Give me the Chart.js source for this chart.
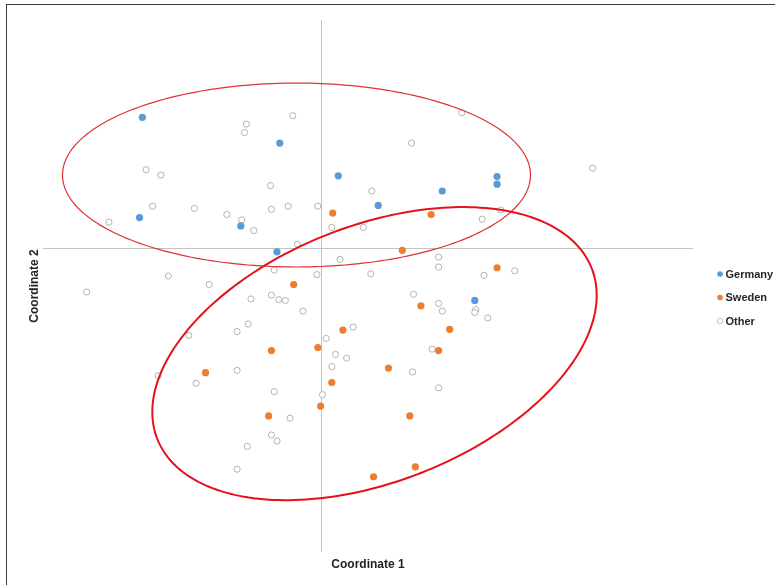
<!DOCTYPE html>
<html>
<head>
<meta charset="utf-8">
<title>Coordinate 1 / Coordinate 2</title>
<script src="https://cdn.jsdelivr.net/npm/chart.js@4.4.1/dist/chart.umd.min.js"></script>
<style>
  html, body { margin: 0; padding: 0; background: #ffffff; }
  #wrap { position: relative; width: 775px; height: 585px; overflow: hidden; }
  #frame { position: absolute; left: 6px; top: 4px; width: 820px; height: 640px;
           border-left: 1px solid #3c3c3c; border-top: 1px solid #3c3c3c; }
  #chart { position: absolute; left: 0; top: 0; }
</style>
</head>
<body>
<div id="wrap">
  <div id="frame"></div>
  <canvas id="chart" width="775" height="585"></canvas>
</div>
<script>
// Scores on the first two coordinates, [coordinate 1, coordinate 2]
const germany = [
  [-1.93, 1.72], [-0.45, 1.38], [0.18, 0.95], [1.89, 0.94], [1.89, 0.84],
  [1.30, 0.75], [0.61, 0.56], [-1.96, 0.40], [-0.87, 0.29], [-0.48, -0.05],
  [1.65, -0.69]
];

const sweden = [
  [0.12, 0.46], [1.18, 0.44], [0.87, -0.03], [1.89, -0.26], [-0.30, -0.48],
  [1.07, -0.76], [0.23, -1.08], [1.38, -1.07], [-0.54, -1.35], [-0.04, -1.31],
  [1.26, -1.35], [-1.25, -1.64], [0.72, -1.58], [0.11, -1.77], [-0.01, -2.08],
  [-0.57, -2.21], [0.95, -2.21], [1.01, -2.88], [0.56, -3.01]
];

const other = [
  [-0.31, 1.74], [-0.81, 1.63], [-0.83, 1.52], [1.51, 1.78], [0.97, 1.38],
  [2.92, 1.05], [-1.89, 1.03], [-1.73, 0.96], [-0.55, 0.82], [0.54, 0.75],
  [-1.82, 0.55], [-1.37, 0.52], [-1.02, 0.44], [-0.86, 0.37], [-0.54, 0.51],
  [-0.36, 0.55], [-0.04, 0.55], [-2.29, 0.34], [-0.73, 0.23], [0.11, 0.27],
  [0.45, 0.27], [1.73, 0.38], [1.93, 0.50], [-0.26, 0.05], [0.20, -0.15],
  [1.26, -0.12], [1.26, -0.25], [2.08, -0.30], [1.75, -0.36], [0.53, -0.34],
  [-1.65, -0.37], [-1.21, -0.48], [-2.53, -0.58], [-0.51, -0.29], [-0.05, -0.35],
  [-0.76, -0.67], [-0.54, -0.62], [-0.46, -0.68], [-0.39, -0.69], [-0.20, -0.83],
  [-0.79, -1.00], [-0.91, -1.10], [-1.43, -1.15], [0.05, -1.19], [0.15, -1.40],
  [0.27, -1.45], [0.11, -1.56], [-1.76, -1.68], [-0.91, -1.61], [-1.35, -1.78],
  [-0.51, -1.89], [0.01, -1.93], [0.99, -0.61], [1.26, -0.73], [1.30, -0.83],
  [1.66, -0.81], [1.65, -0.85], [1.79, -0.92], [0.34, -1.04], [1.19, -1.33],
  [0.98, -1.63], [1.26, -1.84], [-0.34, -2.24], [-0.54, -2.46], [-0.48, -2.54],
  [-0.80, -2.61], [-0.91, -2.91]
];

const seriesNames = ['Germany', 'Sweden', 'Other'];
const axisTitles = ['Coordinate 1', 'Coordinate 2'];
const xRange = [-3, 4];
const yRange = [-4, 3];

// Group outlines in data units: centre and two conjugate semi-axis vectors
const groupOutlines = [
  { center: [-0.27, 0.96], u: [2.52, 0.00], v: [0.00, 1.21], color: '#dc3238', width: 1.2 },
  { center: [0.57, -1.39], u: [2.34, 1.12], v: [0.50, -1.57], color: '#e3121b', width: 2 }
];

const toPoints = arr => arr.map(([x, y]) => ({ x, y }));

// Draws each outline through the chart's own scales
const outlinePlugin = {
  id: 'groupOutlines',
  afterDatasetsDraw(chart) {
    const { ctx, scales: { x: xs, y: ys } } = chart;
    ctx.save();
    groupOutlines.forEach(o => {
      ctx.beginPath();
      const n = 240;
      for (let i = 0; i <= n; i++) {
        const t = (i / n) * Math.PI * 2;
        const c = Math.cos(t), s = Math.sin(t);
        const px = xs.getPixelForValue(o.center[0] + c * o.u[0] + s * o.v[0]);
        const py = ys.getPixelForValue(o.center[1] + c * o.u[1] + s * o.v[1]);
        if (i === 0) ctx.moveTo(px, py); else ctx.lineTo(px, py);
      }
      ctx.closePath();
      ctx.strokeStyle = o.color;
      ctx.lineWidth = o.width;
      ctx.stroke();
    });
    ctx.restore();
  }
};

// Compact legend to the right of the plot
const sideLegend = {
  id: 'sideLegend',
  afterDraw(chart) {
    const { ctx, chartArea } = chart;
    ctx.save();
    ctx.font = 'bold 11px "Liberation Sans", Arial, sans-serif';
    ctx.textBaseline = 'middle';
    ctx.textAlign = 'left';
    chart.data.datasets.forEach((ds, i) => {
      const cx = chartArea.right + 27;
      const cy = chartArea.top + 254 + i * 23.5;
      ctx.beginPath();
      ctx.arc(cx, cy, 2.8, 0, Math.PI * 2);
      ctx.fillStyle = ds.backgroundColor;
      ctx.fill();
      if (ds.borderWidth) {
        ctx.lineWidth = 0.8;
        ctx.strokeStyle = ds.borderColor;
        ctx.stroke();
      }
      ctx.fillStyle = '#262626';
      ctx.fillText(ds.label, cx + 5.5, cy + 0.5);
    });
    ctx.restore();
  }
};

const zeroLine = c => (c.tick && c.tick.value === 0 ? '#c4c4c4' : 'rgba(0,0,0,0)');

new Chart(document.getElementById('chart'), {
  type: 'scatter',
  data: {
    datasets: [
      { label: seriesNames[0], data: toPoints(germany), backgroundColor: '#5b9bd5',
        borderColor: '#5b9bd5', borderWidth: 0, pointRadius: 3.6 },
      { label: seriesNames[1], data: toPoints(sweden), backgroundColor: '#ed7d31',
        borderColor: '#ed7d31', borderWidth: 0, pointRadius: 3.6 },
      { label: seriesNames[2], data: toPoints(other), backgroundColor: '#ffffff',
        borderColor: '#b3b3b3', borderWidth: 1, pointRadius: 3.1 }
    ]
  },
  options: {
    responsive: false,
    animation: false,
    events: [],
    layout: { padding: { left: 23.6, right: 82, top: 20, bottom: 13.6 } },
    plugins: { legend: { display: false }, tooltip: { enabled: false } },
    scales: {
      x: {
        type: 'linear', min: xRange[0], max: xRange[1],
        ticks: { display: false, stepSize: 1 },
        grid: { color: zeroLine, drawTicks: false, lineWidth: 1 },
        border: { display: false },
        title: { display: true, text: axisTitles[0], color: '#222222',
                 font: { family: '"Liberation Sans", Arial, sans-serif', size: 12, weight: 'bold' },
                 padding: { top: 5, bottom: 0 } }
      },
      y: {
        type: 'linear', min: yRange[0], max: yRange[1],
        ticks: { display: false, stepSize: 1 },
        grid: { color: zeroLine, drawTicks: false, lineWidth: 1 },
        border: { display: false },
        title: { display: true, text: axisTitles[1], color: '#222222',
                 font: { family: '"Liberation Sans", Arial, sans-serif', size: 12, weight: 'bold' },
                 padding: { top: 4, bottom: 1 } }
      }
    }
  },
  plugins: [outlinePlugin, sideLegend]
});
</script>
</body>
</html>
